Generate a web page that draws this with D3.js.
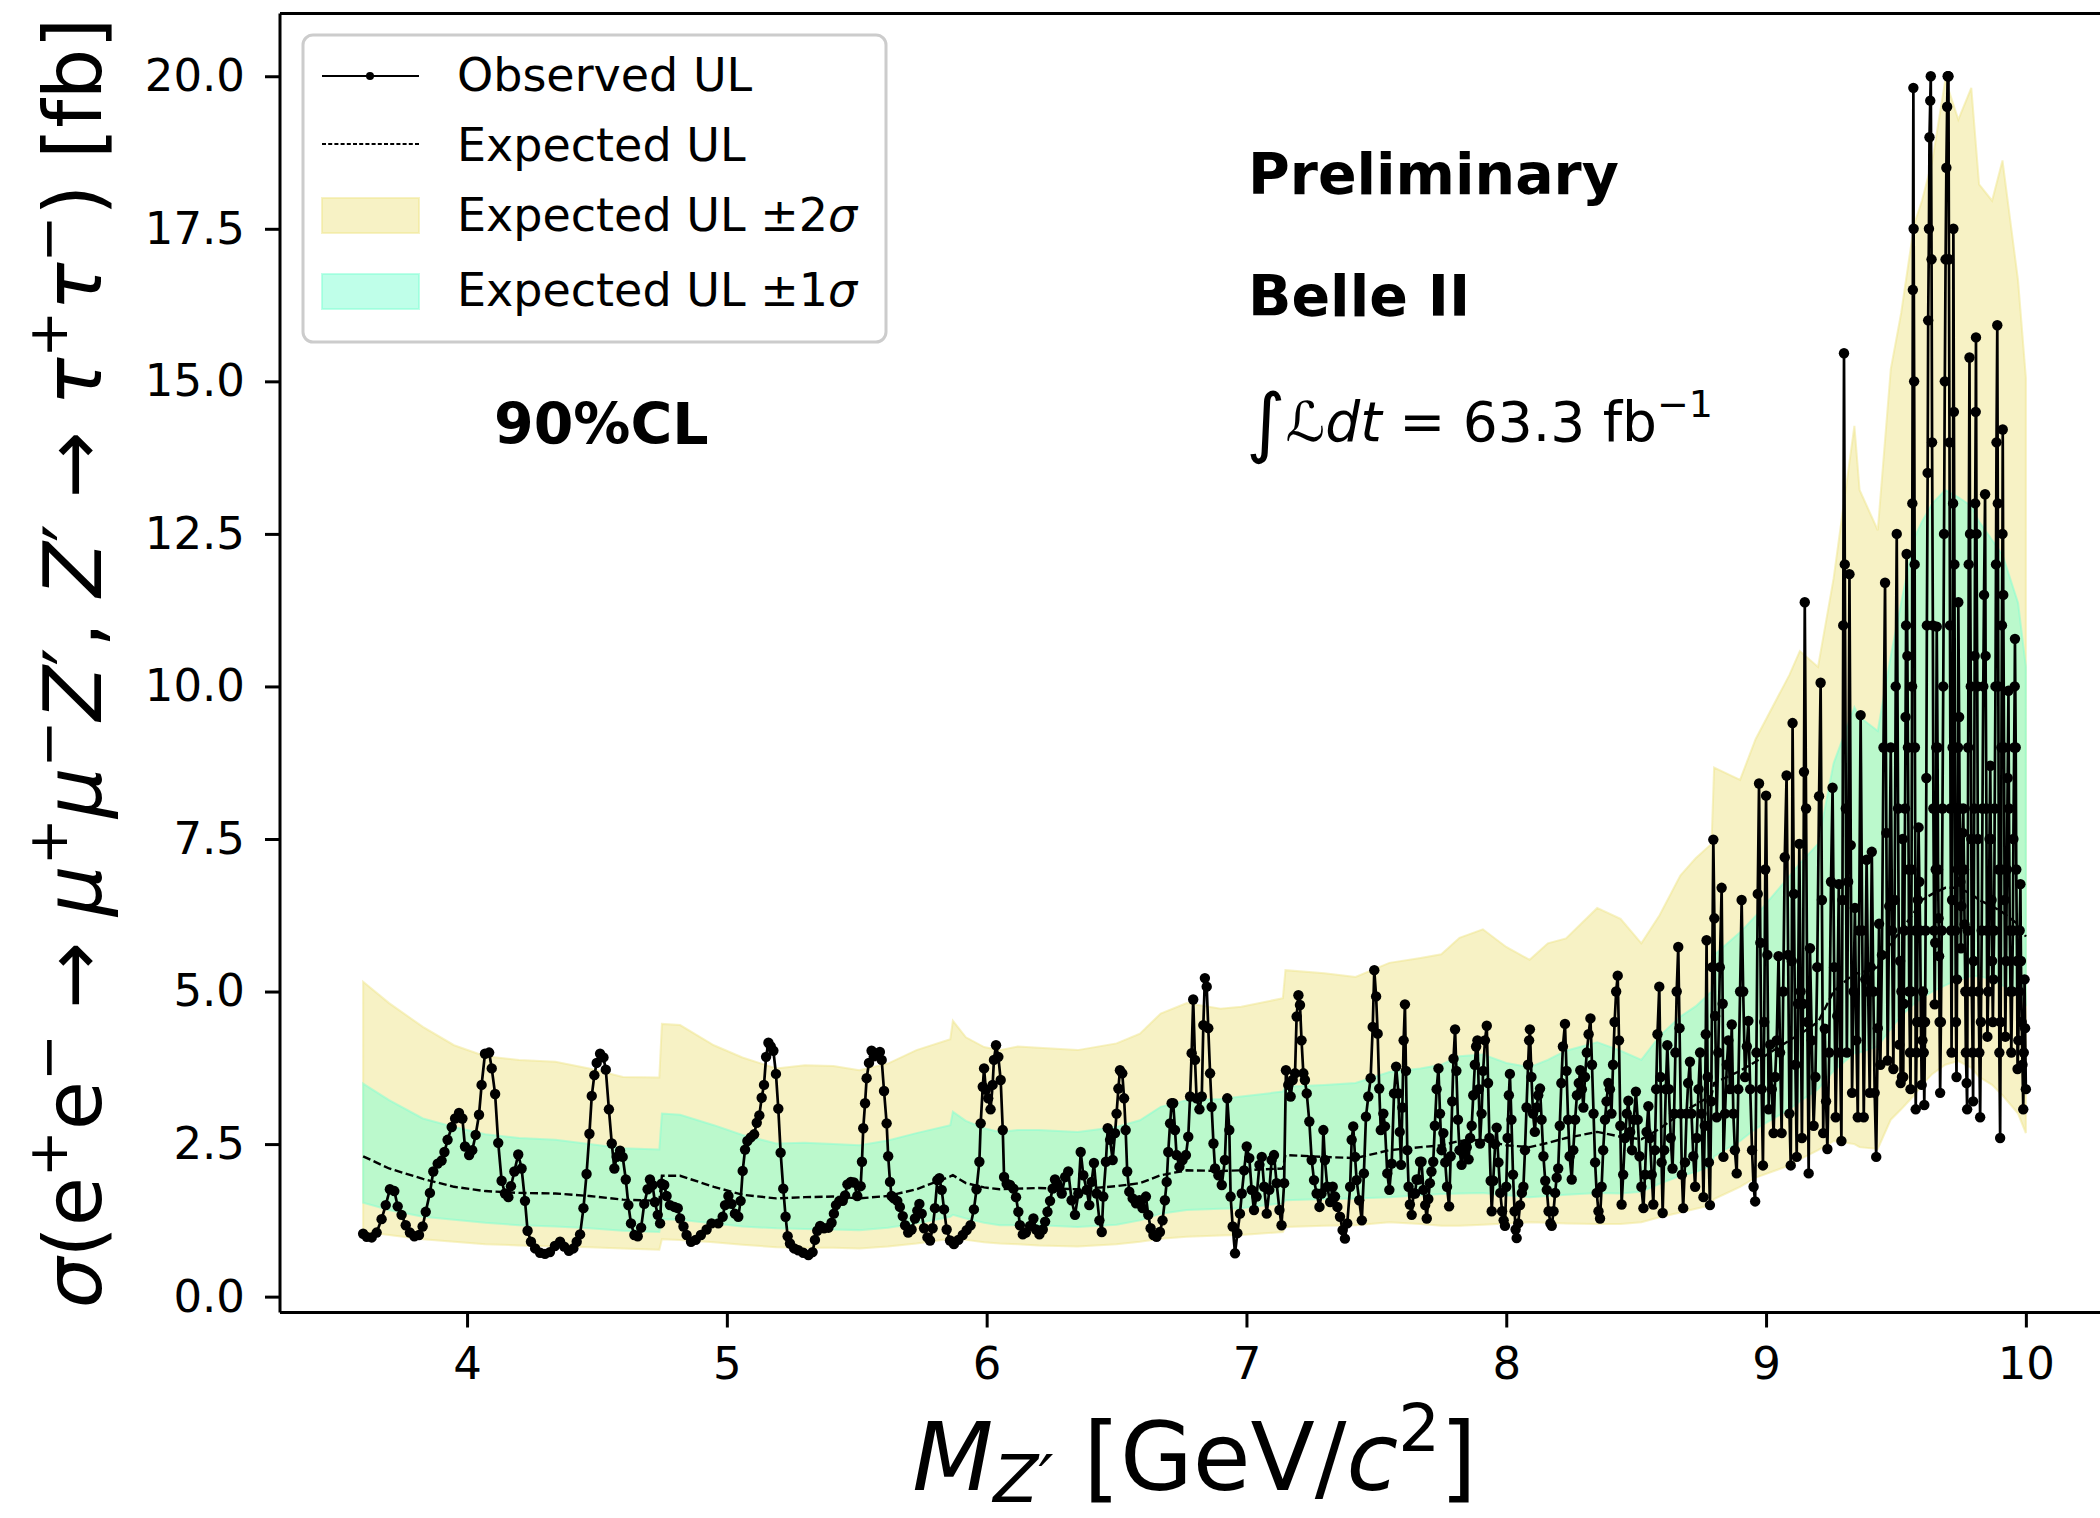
<!DOCTYPE html>
<html>
<head>
<meta charset="utf-8">
<script src="https://cdn.jsdelivr.net/npm/d3@7"></script>
<style>
  body { margin: 0; background: #fff; }
  svg text { font-family: "DejaVu Sans", sans-serif; fill: #000; }
</style>
</head>
<body>
<svg id="chart" width="2100" height="1518"></svg>
<script>
// Expected band table: mass, -2σ, -1σ, median, +1σ, +2σ
const bandMass   = [3.60,3.70,3.83,3.95,4.07,4.20,4.34,4.47,4.60,4.74,4.75,4.82,4.95,5.06,5.19,5.30,5.41,5.51,5.62,5.73,5.86,5.87,5.92,5.99,6.05,6.12,6.20,6.35,6.50,6.59,6.67,6.77,6.90,6.98,7.14,7.15,7.30,7.42,7.55,7.67,7.75,7.82,7.91,8.00,8.09,8.16,8.23,8.35,8.44,8.52,8.59,8.67,8.73,8.79,8.80,8.90,8.96,9.09,9.13,9.20,9.26,9.34,9.36,9.43,9.48,9.52,9.57,9.60,9.64,9.69,9.74,9.79,9.82,9.87,9.91,9.97,10.00];
const bandLow2   = [1.06,1.01,0.94,0.90,0.86,0.84,0.82,0.81,0.79,0.77,0.94,0.93,0.89,0.85,0.81,0.80,0.80,0.79,0.82,0.87,0.95,0.97,0.93,0.89,0.87,0.86,0.84,0.82,0.86,0.90,0.95,0.98,1.00,1.01,1.06,1.14,1.16,1.17,1.22,1.19,1.16,1.16,1.18,1.20,1.22,1.21,1.20,1.19,1.19,1.22,1.30,1.38,1.44,1.50,1.60,1.80,1.95,2.15,2.25,2.40,2.55,2.50,2.45,2.42,2.90,3.07,3.30,3.47,3.65,3.80,3.86,3.75,3.60,3.47,3.30,3.00,2.68];
const bandLow1   = [1.54,1.42,1.31,1.26,1.21,1.17,1.15,1.12,1.08,1.06,1.27,1.26,1.20,1.15,1.12,1.11,1.10,1.09,1.13,1.20,1.31,1.34,1.28,1.21,1.17,1.17,1.17,1.14,1.18,1.25,1.36,1.42,1.44,1.45,1.53,1.58,1.60,1.61,1.63,1.66,1.68,1.69,1.70,1.66,1.63,1.65,1.67,1.70,1.69,1.72,1.85,1.98,2.04,2.15,2.30,2.55,2.75,3.07,3.20,3.40,3.70,3.99,4.00,4.10,4.39,4.60,4.80,4.90,5.00,5.10,5.20,5.25,5.25,5.20,5.10,4.95,4.80];
const bandMedian = [2.30,2.10,1.93,1.80,1.73,1.70,1.69,1.65,1.59,1.57,1.98,1.98,1.80,1.67,1.61,1.63,1.64,1.61,1.65,1.76,1.97,1.99,1.86,1.79,1.76,1.77,1.78,1.76,1.81,1.86,1.99,2.07,2.06,2.07,2.10,2.32,2.29,2.27,2.40,2.45,2.48,2.55,2.57,2.48,2.45,2.52,2.60,2.70,2.62,2.58,2.75,3.00,3.15,3.30,3.50,3.70,3.85,4.20,4.30,4.50,5.00,5.30,5.30,5.40,5.80,6.00,6.30,6.50,6.60,6.70,6.70,6.60,6.50,6.40,6.30,6.10,5.90];
const bandUp1    = [3.49,3.22,2.92,2.78,2.66,2.60,2.57,2.50,2.43,2.41,3.00,2.98,2.81,2.65,2.51,2.52,2.50,2.48,2.56,2.68,2.81,3.03,2.88,2.76,2.70,2.73,2.73,2.70,2.78,2.89,3.11,3.22,3.24,3.28,3.36,3.44,3.47,3.50,3.68,3.74,3.80,3.94,3.97,3.83,3.76,3.88,4.03,4.17,4.03,3.88,4.27,4.59,4.76,5.00,5.60,5.97,6.24,6.89,7.10,7.42,8.74,9.66,9.50,9.27,10.50,11.37,12.43,12.70,13.00,13.22,13.10,12.96,12.70,12.40,12.16,11.37,10.32];
const bandUp2    = [5.16,4.81,4.42,4.12,3.94,3.88,3.85,3.74,3.60,3.59,4.47,4.45,4.12,3.92,3.74,3.79,3.78,3.71,3.82,4.04,4.22,4.52,4.25,4.09,4.04,4.10,4.08,4.04,4.15,4.31,4.64,4.81,4.72,4.75,4.89,5.35,5.30,5.24,5.47,5.55,5.61,5.88,6.02,5.73,5.52,5.79,5.87,6.37,6.19,5.79,6.25,6.90,7.19,7.42,8.67,8.47,9.14,10.19,10.58,10.32,11.77,14.27,13.22,12.56,15.20,16.12,17.57,17.96,18.62,19.94,19.29,19.81,18.23,17.96,18.62,16.65,15.06];

// Observed UL, [mass, UL]
const obsLow = [
[3.600,1.03],[3.614,0.98],[3.633,0.97],[3.652,1.05],[3.671,1.27],[3.687,1.50],[3.703,1.76],[3.720,1.73],[3.733,1.48],[3.748,1.34],
[3.764,1.17],[3.780,1.05],[3.797,0.99],[3.815,1.01],[3.829,1.15],[3.841,1.39],[3.857,1.70],[3.870,2.05],[3.887,2.18],[3.902,2.23],
[3.913,2.37],[3.925,2.57],[3.941,2.78],[3.954,2.92],[3.969,3.01],[3.982,2.92],[3.992,2.46],[4.008,2.32],[4.020,2.40],[4.033,2.65],
[4.046,2.98],[4.056,3.47],[4.069,3.98],[4.085,4.00],[4.095,3.74],[4.108,3.32],[4.120,2.52],[4.133,1.90],[4.146,1.69],[4.159,1.63],
[4.169,1.81],[4.182,2.05],[4.197,2.33],[4.210,2.10],[4.223,1.57],[4.233,1.08],[4.246,0.90],[4.262,0.79],[4.281,0.72],[4.300,0.70],
[4.319,0.73],[4.338,0.83],[4.358,0.90],[4.374,0.82],[4.392,0.75],[4.409,0.79],[4.422,0.90],[4.435,1.02],[4.448,1.45],[4.460,2.01],
[4.471,2.67],[4.480,3.29],[4.490,3.63],[4.499,3.83],[4.512,3.98],[4.525,3.92],[4.534,3.72],[4.546,3.07],[4.557,2.51],[4.567,2.10],
[4.576,2.29],[4.589,2.39],[4.599,2.29],[4.611,1.92],[4.621,1.50],[4.631,1.20],[4.644,1.01],[4.657,0.99],[4.670,1.13],[4.682,1.52],
[4.695,1.76],[4.704,1.92],[4.714,1.83],[4.723,1.55],[4.734,1.34],[4.743,1.20],[4.749,1.85],[4.759,1.83],[4.768,1.65],[4.781,1.50],
[4.798,1.47],[4.811,1.45],[4.820,1.28],[4.833,1.15],[4.845,1.01],[4.862,0.90],[4.880,0.93],[4.900,1.01],[4.922,1.10],[4.941,1.20],
[4.967,1.20],[4.984,1.31],[4.993,1.50],[5.006,1.65],[5.018,1.52],[5.031,1.36],[5.044,1.31],[5.053,1.57],[5.061,2.06],[5.070,2.41],
[5.079,2.55],[5.092,2.61],[5.105,2.66],[5.115,2.85],[5.125,2.97],[5.134,3.26],[5.143,3.47],[5.151,3.93],[5.160,4.16],[5.169,4.10],
[5.179,4.03],[5.189,3.65],[5.198,3.08],[5.207,2.36],[5.217,1.77],[5.226,1.31],[5.234,0.99],[5.243,0.87],[5.259,0.79],[5.275,0.76],
[5.294,0.72],[5.314,0.68],[5.330,0.73],[5.339,0.93],[5.348,1.08],[5.359,1.16],[5.374,1.12],[5.391,1.13],[5.403,1.21],[5.412,1.36],
[5.420,1.50],[5.433,1.57],[5.446,1.57],[5.455,1.66],[5.464,1.84],[5.477,1.88],[5.489,1.87],[5.502,1.65],[5.515,1.81],[5.520,2.21],
[5.525,2.76],[5.532,3.17],[5.538,3.58],[5.547,3.83],[5.557,4.03],[5.566,3.94],[5.577,3.98],[5.589,4.01],[5.596,3.88],[5.605,3.37],
[5.615,2.84],[5.621,2.30],[5.628,1.88],[5.634,1.65],[5.643,1.61],[5.656,1.57],[5.666,1.47],[5.677,1.32],[5.686,1.17],[5.698,1.05],
[5.711,1.10],[5.724,1.28],[5.733,1.41],[5.741,1.52],[5.750,1.36],[5.759,1.12],[5.772,0.97],[5.782,0.92],[5.792,1.12],[5.801,1.45],
[5.810,1.91],[5.818,1.94],[5.827,1.75],[5.836,1.43],[5.846,1.10],[5.859,0.92],[5.874,0.86],[5.891,0.93],[5.908,1.01],[5.923,1.09],
[5.938,1.17],[5.951,1.43],[5.961,1.76],[5.972,2.21],[5.977,2.84],[5.985,3.44],[5.990,3.74],[5.997,3.39],[6.006,3.25],[6.015,3.07],
[6.023,3.47],[6.028,3.88],[6.036,4.12],[6.045,3.93],[6.054,3.55],[6.062,2.73],[6.067,1.96],[6.077,1.85],[6.090,1.83],[6.103,1.77],
[6.113,1.63],[6.122,1.39],[6.128,1.17],[6.139,1.02],[6.151,1.05],[6.167,1.16],[6.180,1.28],[6.190,1.10],[6.203,1.02],[6.216,1.10],
[6.225,1.23],[6.234,1.39],[6.244,1.57],[6.254,1.77],[6.263,1.92],[6.272,1.85]
];
const obsMid = [
[6.276,1.80],[6.289,1.69],[6.302,1.96],[6.314,2.05],[6.327,1.58],[6.340,1.34],[6.353,1.69],[6.362,2.37],[6.372,1.99],[6.385,1.75],
[6.395,1.50],[6.404,1.88],[6.413,2.19],[6.423,1.69],[6.434,1.25],[6.443,1.06],[6.449,1.64],[6.459,2.21],[6.466,2.76],[6.475,2.57],
[6.485,2.24],[6.494,2.68],[6.500,3.00],[6.507,3.41],[6.513,3.71],[6.522,3.66],[6.529,3.25],[6.535,2.73],[6.541,2.05],[6.549,1.72],
[6.562,1.61],[6.575,1.53],[6.588,1.58],[6.600,1.45],[6.613,1.64],[6.622,1.34],[6.631,1.12],[6.642,1.01],[6.654,0.98],[6.667,1.06],
[6.677,1.25],[6.686,1.58],[6.693,1.88],[6.699,2.37],[6.706,2.84],[6.712,3.17],[6.718,3.17],[6.725,2.73],[6.731,2.32],[6.742,2.13],
[6.754,2.24],[6.767,2.32],[6.776,2.62],[6.783,3.28],[6.789,3.99],[6.795,4.87],[6.802,3.88],[6.808,3.25],[6.819,3.07],[6.828,3.28],
[6.834,4.45],[6.840,5.22],[6.847,5.08],[6.853,4.40],[6.860,3.66],[6.866,3.11],[6.873,2.51],[6.879,2.10],[6.892,1.99],[6.905,1.83],
[6.917,2.24],[6.926,3.25],[6.934,2.73],[6.939,1.64],[6.947,1.15],[6.956,0.71],[6.965,1.04],[6.975,1.36],[6.982,1.69],[6.991,2.07],
[7.001,2.46],[7.011,2.27],[7.020,1.75],[7.029,1.42],[7.039,1.64],[7.050,2.16],[7.059,2.29],[7.068,1.80],[7.078,1.36],[7.088,1.75],
[7.097,2.24],[7.106,2.32],[7.116,1.86],[7.127,1.42],[7.135,1.17],[7.145,1.86],[7.152,3.71],[7.161,3.47],[7.170,3.28],[7.178,3.55],
[7.187,3.66],[7.193,4.59],[7.200,4.94],[7.206,4.78],[7.212,4.20],[7.219,3.66],[7.225,3.55],[7.232,3.33],[7.242,2.87],[7.251,2.24],
[7.260,1.91],[7.270,1.69],[7.281,1.47],[7.289,1.69],[7.296,2.73],[7.302,2.24],[7.311,1.80],[7.322,1.55],[7.332,1.80],[7.341,1.64],
[7.350,1.47],[7.360,1.31],[7.370,1.09],[7.379,0.95],[7.388,1.20],[7.399,1.80],[7.405,2.57],[7.411,2.79],[7.418,2.29],[7.424,1.91],
[7.434,1.58],[7.444,1.25],[7.452,2.02],[7.460,2.95],[7.469,3.28],[7.478,3.58],[7.486,4.42],[7.492,5.35],[7.499,4.92],[7.505,4.31],
[7.511,3.41],[7.517,2.73],[7.527,3.00],[7.533,2.79],[7.542,2.02],[7.550,1.75],[7.559,2.18],[7.568,3.33],[7.576,3.77],[7.585,3.33]
];
const obsHigh = [
[7.590,2.70],[7.595,2.16],[7.600,3.10],[7.605,4.20],[7.610,4.79],[7.614,3.70],[7.619,2.40],[7.624,1.80],[7.629,1.51],[7.636,1.34],
[7.643,1.69],[7.649,1.69],[7.655,1.92],[7.662,1.92],[7.668,2.21],[7.674,2.21],[7.681,1.75],[7.688,1.50],[7.694,1.28],[7.700,1.60],
[7.706,1.86],[7.712,2.05],[7.719,2.21],[7.725,2.80],[7.732,3.40],[7.739,3.74],[7.745,3.00],[7.751,2.40],[7.758,2.68],[7.765,2.20],
[7.772,1.80],[7.780,1.48],[7.786,2.30],[7.792,3.20],[7.797,3.90],[7.803,4.38],[7.808,3.70],[7.814,2.90],[7.820,2.40],[7.828,2.16],
[7.835,2.35],[7.841,2.50],[7.848,2.45],[7.855,2.25],[7.861,2.60],[7.867,2.80],[7.873,3.30],[7.879,3.80],[7.884,4.10],[7.889,4.20],
[7.894,3.40],[7.899,2.51],[7.905,3.00],[7.911,3.70],[7.918,4.20],[7.925,4.44],[7.930,3.50],[7.935,2.60],[7.940,1.90],[7.944,1.40],
[7.950,1.90],[7.957,2.50],[7.963,2.77],[7.970,2.20],[7.977,1.70],[7.984,1.40],[7.990,1.25],[7.995,1.16],[8.000,1.80],[8.005,2.60],
[8.010,3.30],[8.014,3.65],[8.020,2.90],[8.026,2.00],[8.032,1.40],[8.036,1.10],[8.040,0.96],[8.046,1.20],[8.053,1.50],[8.060,1.70],
[8.066,1.80],[8.072,2.40],[8.078,3.10],[8.084,3.80],[8.088,4.20],[8.091,4.38],[8.097,3.60],[8.103,3.00],[8.110,2.70],[8.117,3.10],
[8.123,3.30],[8.130,3.41],[8.136,2.90],[8.143,2.30],[8.150,1.90],[8.156,1.75],[8.163,1.40],[8.170,1.20],[8.175,1.16],[8.182,1.40],
[8.188,1.70],[8.194,1.95],[8.200,2.10],[8.206,2.80],[8.212,3.50],[8.218,4.10],[8.226,4.47],[8.232,3.70],[8.238,2.90],[8.244,2.30],
[8.252,1.92],[8.258,2.40],[8.265,2.90],[8.272,3.30],[8.279,3.50],[8.285,3.71],[8.291,3.40],[8.297,3.10],[8.303,3.60],[8.310,4.00],
[8.317,4.30],[8.324,4.56],[8.330,3.80],[8.336,3.00],[8.342,2.20],[8.348,1.70],[8.355,1.40],[8.361,1.28],[8.367,1.80],[8.373,2.40],
[8.380,2.90],[8.386,3.20],[8.393,3.50],[8.399,3.40],[8.405,3.00],[8.411,3.80],[8.417,4.50],[8.423,5.00],[8.429,5.26],[8.434,4.20],
[8.439,2.80],[8.444,1.51],[8.450,2.00],[8.457,2.60],[8.464,3.00],[8.470,3.21],[8.477,2.70],[8.484,2.40],[8.491,2.90],[8.499,3.36],
[8.506,2.90],[8.513,2.30],[8.520,1.80],[8.528,1.45],[8.534,2.00],[8.540,2.70],[8.547,3.12],[8.553,2.60],[8.560,2.00],[8.566,1.51],
[8.572,2.40],[8.577,3.40],[8.582,4.30],[8.589,5.08],[8.594,3.60],[8.598,2.20],[8.602,1.37],[8.608,2.40],[8.614,3.40],[8.620,4.12],
[8.626,3.40],[8.633,2.60],[8.640,2.10],[8.646,3.00],[8.651,4.00],[8.656,5.00],[8.662,5.73],[8.667,4.40],[8.672,3.00],[8.676,2.00],
[8.681,1.45],[8.688,2.20],[8.694,3.00],[8.700,3.50],[8.707,3.85],[8.713,3.00],[8.720,2.30],[8.727,1.80],[8.733,2.60],[8.740,3.40],
[8.746,4.00],[8.752,3.00],[8.759,1.63],[8.764,2.80],[8.768,4.30],[8.771,5.84],[8.775,3.60],[8.780,2.20],[8.784,1.50],[8.789,3.20],
[8.793,5.40],[8.797,7.49],[8.801,6.20],[8.804,4.60],[8.810,2.94],[8.816,4.00],[8.822,5.40],[8.829,6.70],[8.833,4.80],[8.836,2.29],
[8.842,3.00],[8.849,3.80],[8.855,4.20],[8.861,3.40],[8.868,4.46],[8.874,3.00],[8.880,2.40],[8.887,2.02],[8.893,3.40],[8.900,5.00],
[8.906,6.50],[8.912,5.00],[8.919,3.60],[8.926,4.10],[8.932,4.52],[8.939,3.40],[8.946,2.40],[8.952,1.80],[8.958,1.56],[8.963,4.00],
[8.968,6.60],[8.973,8.41],[8.978,5.80],[8.983,3.40],[8.988,2.15],[8.993,4.50],[8.997,7.00],[9.000,8.21],[9.005,5.60],[9.010,3.07],
[9.016,4.13],[9.022,3.40],[9.029,2.68],[9.035,3.60],[9.041,4.20],[9.048,5.58],[9.054,4.00],[9.060,2.68],[9.066,5.00],[9.072,7.20],
[9.079,8.54],[9.085,5.60],[9.090,3.00],[9.095,2.15],[9.099,5.50],[9.102,9.40],[9.107,6.60],[9.113,3.80],[9.118,2.29],[9.123,4.80],
[9.128,7.42],[9.133,5.00],[9.138,2.60],[9.142,4.80],[9.146,8.60],[9.149,11.38],[9.154,8.00],[9.159,4.50],[9.164,2.02],[9.169,5.71],
[9.176,4.20],[9.183,2.80],[9.190,3.60],[9.197,5.40],[9.204,8.20],[9.210,10.06],[9.215,6.50],[9.220,2.68],[9.226,4.39],[9.231,3.20],
[9.236,2.42],[9.243,4.00],[9.250,6.80],[9.256,8.34],[9.262,5.40],[9.268,2.94],[9.274,4.60],[9.280,6.76],[9.285,4.00],[9.290,2.55],
[9.294,6.50],[9.297,11.00],[9.300,15.46],[9.303,12.00],[9.307,8.00],[9.311,4.00],[9.316,6.80],[9.321,11.84],[9.326,7.40],[9.331,3.34],
[9.337,5.00],[9.342,6.37],[9.348,4.20],[9.353,2.94],[9.358,6.00],[9.364,9.53],[9.370,6.00],[9.376,2.94],[9.382,5.20],[9.387,7.16],
[9.393,5.00],[9.399,3.34],[9.403,5.40],[9.407,7.29],[9.413,5.00],[9.418,3.34],[9.424,2.29],[9.430,4.40],[9.435,6.11],[9.440,3.80],
[9.446,5.60],[9.452,9.00],[9.458,11.70],[9.463,7.60],[9.468,3.87],[9.474,6.40],[9.480,9.00],[9.485,6.00],[9.490,3.73],[9.495,6.50],
[9.499,10.00],[9.503,12.50],[9.508,8.00],[9.513,4.13]
];
const obsTop = [
[9.516,5.50],[9.518,3.50],[9.521,5.00],[9.523,3.60],[9.526,7.50],[9.528,3.60],[9.530,4.80],[9.532,6.00],[9.535,8.00],[9.537,9.50],
[9.539,11.00],[9.541,12.17],[9.544,10.50],[9.546,9.00],[9.549,7.00],[9.551,5.00],[9.554,4.00],[9.556,3.40],[9.558,5.00],[9.560,7.00],
[9.562,10.00],[9.563,13.00],[9.565,16.50],[9.567,19.81],[9.568,17.50],[9.570,15.00],[9.572,12.00],[9.573,9.00],[9.575,6.00],[9.576,3.07],
[9.579,4.00],[9.581,4.50],[9.584,6.50],[9.587,7.69],[9.590,6.80],[9.593,6.00],[9.596,4.50],[9.599,3.47],[9.602,4.20],[9.604,5.00],
[9.607,4.00],[9.609,3.14],[9.612,4.50],[9.614,6.00],[9.617,8.50],[9.619,11.00],[9.622,13.50],[9.624,16.00],[9.627,17.50],[9.629,19.00],
[9.632,19.60],[9.634,20.00],[9.637,17.00],[9.639,14.00],[9.642,11.00],[9.644,8.00],[9.647,6.00],[9.649,4.79],[9.651,5.80],[9.653,7.00],
[9.655,9.00],[9.657,10.98],[9.660,9.00],[9.662,7.00],[9.664,6.20],[9.666,5.58],[9.668,4.50],[9.670,3.34],[9.673,4.50],[9.676,6.00],
[9.679,8.00],[9.682,10.00],[9.685,12.50],[9.688,15.00],[9.691,17.00],[9.694,18.50],[9.697,19.50],[9.699,20.00],[9.701,20.00],[9.702,20.00],
[9.704,17.00],[9.706,14.00],[9.708,11.00],[9.710,8.00],[9.712,6.00],[9.714,4.00],[9.716,6.50],[9.718,9.00],[9.720,13.00],[9.721,17.50],
[9.723,14.50],[9.725,12.00],[9.727,9.00],[9.729,6.00],[9.731,4.50],[9.733,3.60],[9.735,5.20],[9.737,7.00],[9.739,9.00],[9.740,11.38],
[9.743,9.50],[9.745,8.00],[9.748,6.80],[9.750,5.71],[9.752,6.40],[9.755,7.00],[9.757,7.60],[9.759,8.00],[9.762,7.00],[9.764,6.10],
[9.767,5.00],[9.769,4.00],[9.772,3.50],[9.774,3.07],[9.776,6.00],[9.778,9.00],[9.780,12.00],[9.783,15.39],[9.785,12.50],[9.788,10.00],
[9.790,7.50],[9.792,5.00],[9.795,4.00],[9.797,3.20],[9.799,5.50],[9.801,8.00],[9.803,10.50],[9.805,13.00],[9.807,14.50],[9.808,15.72],
[9.810,12.50],[9.813,10.00],[9.815,7.50],[9.818,5.00],[9.821,4.00],[9.824,2.94],[9.827,4.50],[9.830,6.00],[9.833,8.00],[9.836,10.00],
[9.839,11.50],[9.843,13.15],[9.845,10.50],[9.848,8.00],[9.850,6.00],[9.852,4.26],[9.855,5.00],[9.858,6.00],[9.860,7.50],[9.863,8.70],
[9.865,7.50],[9.868,6.50],[9.870,5.50],[9.873,4.50],[9.875,5.20],[9.878,6.00],[9.880,8.00],[9.883,10.00],[9.885,12.00],[9.887,14.00],
[9.890,15.92],[9.892,13.00],[9.894,10.00],[9.896,7.00],[9.898,4.00],[9.901,2.60],[9.903,4.50],[9.905,7.00],[9.906,9.00],[9.908,11.00],
[9.910,12.50],[9.911,14.21],[9.913,11.50],[9.916,9.00],[9.918,6.50],[9.921,4.26],[9.924,5.50],[9.927,7.00],[9.930,8.50],[9.933,9.93],
[9.935,8.00],[9.938,6.00],[9.941,5.00],[9.944,4.00],[9.947,5.00],[9.950,6.00],[9.952,7.50],[9.955,9.00],[9.957,10.00],[9.958,10.78],
[9.961,9.00],[9.963,7.00],[9.966,5.50],[9.968,3.73],[9.971,4.20],[9.974,5.00],[9.976,6.00],[9.979,6.76],[9.981,5.50],[9.984,4.50],
[9.987,3.80],[9.990,3.07],[9.992,4.00],[9.995,5.20],[9.997,4.40],[10.000,3.40]
];

const xTicks = [4, 5, 6, 7, 8, 9, 10];
const yTicks = [0, 2.5, 5, 7.5, 10, 12.5, 15, 17.5, 20];

const svg = d3.select('#chart');
const W = 2100, H = 1518;
const plot = { left: 280, right: 2109, top: 13.4, bottom: 1312.5 };

const x = d3.scaleLinear().domain([3.28, 10.32]).range([plot.left, plot.right]);
const y = d3.scaleLinear().domain([-0.26, 21.03]).range([plot.bottom, plot.top]);

svg.append('rect').attr('width', W).attr('height', H).attr('fill', '#fff');

svg.append('clipPath').attr('id', 'clip')
  .append('rect')
  .attr('x', plot.left).attr('y', plot.top)
  .attr('width', plot.right - plot.left).attr('height', plot.bottom - plot.top);

const g = svg.append('g').attr('clip-path', 'url(#clip)');

const band = bandMass.map((m, i) => ({
  m, lo2: bandLow2[i], lo1: bandLow1[i], med: bandMedian[i], hi1: bandUp1[i], hi2: bandUp2[i]
}));

// ±2σ band then ±1σ band on top
const area2 = d3.area().x(d => x(d.m)).y0(d => y(d.lo2)).y1(d => y(d.hi2));
const area1 = d3.area().x(d => x(d.m)).y0(d => y(d.lo1)).y1(d => y(d.hi1));

g.append('path').datum(band).attr('d', area2)
  .attr('fill', '#f0e68c').attr('fill-opacity', 0.5)
  .attr('stroke', '#f0e68c').attr('stroke-opacity', 0.5).attr('stroke-width', 2);
g.append('path').datum(band).attr('d', area1)
  .attr('fill', '#7fffd4').attr('fill-opacity', 0.5)
  .attr('stroke', '#7fffd4').attr('stroke-opacity', 0.5).attr('stroke-width', 2);

// expected median
g.append('path').datum(band)
  .attr('d', d3.line().x(d => x(d.m)).y(d => y(d.med)))
  .attr('fill', 'none').attr('stroke', '#000').attr('stroke-width', 2.4)
  .attr('stroke-dasharray', '8,3.5');

// observed
const obs = obsLow.concat(obsMid, obsHigh, obsTop);
g.append('path').datum(obs)
  .attr('d', d3.line().x(d => x(d[0])).y(d => y(d[1])))
  .attr('fill', 'none').attr('stroke', '#000').attr('stroke-width', 2.7);
g.append('g').selectAll('circle')
  .data(obs)
  .enter().append('circle')
  .attr('cx', d => x(d[0])).attr('cy', d => y(d[1]))
  .attr('r', 5.2).attr('fill', '#000');

// axes
const xAxis = svg.append('g')
  .attr('transform', `translate(0,${plot.bottom})`)
  .call(d3.axisBottom(x).tickValues(xTicks).tickFormat(d3.format('d')).tickSize(15).tickSizeOuter(0).tickPadding(20));
const yAxis = svg.append('g')
  .attr('transform', `translate(${plot.left},0)`)
  .call(d3.axisLeft(y).tickValues(yTicks).tickFormat(d3.format('.1f')).tickSize(15).tickSizeOuter(0).tickPadding(20));

[xAxis, yAxis].forEach(a => {
  a.select('.domain').attr('stroke', '#000').attr('stroke-width', 3);
  a.selectAll('.tick line').attr('stroke', '#000').attr('stroke-width', 3);
  a.selectAll('.tick text').attr('font-size', 45).attr('font-family', '"DejaVu Sans"').attr('fill', '#000');
});
yAxis.select('.domain').attr('d', `M0,${plot.top}V${plot.bottom}`);
xAxis.select('.domain').attr('d', `M${plot.left},0H${plot.right}`);

// top spine
svg.append('line')
  .attr('x1', plot.left).attr('x2', plot.right)
  .attr('y1', plot.top).attr('y2', plot.top)
  .attr('stroke', '#000').attr('stroke-width', 3);

// mathtext-like runs: n normal, i italic, sup/supi superscript, sub/subi subscript
function mathText(sel, runs, fs) {
  let shift = 0;
  runs.forEach(([t, k]) => {
    const isSup = k.startsWith('sup'), isSub = k.startsWith('sub');
    const target = isSup ? -0.42 * fs : isSub ? 0.13 * fs : 0;
    sel.append('tspan')
      .attr('dy', target - shift)
      .attr('font-size', (isSup || isSub) ? fs * 0.7 : fs)
      .attr('font-style', k.endsWith('i') ? 'italic' : 'normal')
      .text(t);
    shift = target;
  });
}

// y label
const yl = svg.append('text')
  .attr('transform', `translate(101,${(plot.top + plot.bottom) / 2}) rotate(-90)`)
  .attr('text-anchor', 'middle').attr('font-size', 80);
mathText(yl, [
  ['σ', 'i'], ['(e', 'n'], ['+', 'sup'], ['e', 'n'], ['−', 'sup'], [' → ', 'n'],
  ['μ', 'i'], ['+', 'sup'], ['μ', 'i'], ['−', 'sup'], ['Z', 'i'], ['′, ', 'n'],
  ['Z', 'i'], ['′ → ', 'n'], ['τ', 'i'], ['+', 'sup'], ['τ', 'i'], ['−', 'sup'],
  [') [fb]', 'n']
], 80);

// x label
const xl = svg.append('text')
  .attr('x', (plot.left + plot.right) / 2).attr('y', 1490)
  .attr('text-anchor', 'middle').attr('font-size', 94);
mathText(xl, [
  ['M', 'i'], ['Z′', 'subi'], [' [GeV/', 'n'], ['c', 'i'], ['2', 'sup'], [']', 'n']
], 94);

// annotations
svg.append('text').attr('x', 1248).attr('y', 194).attr('font-size', 57).attr('font-weight', 'bold').text('Preliminary');
svg.append('text').attr('x', 1248).attr('y', 316).attr('font-size', 57).attr('font-weight', 'bold').text('Belle II');
svg.append('text').attr('x', 494).attr('y', 444).attr('font-size', 57).attr('font-weight', 'bold').text('90%CL');

const lum = svg.append('text').attr('x', 1246).attr('y', 441).attr('font-size', 55);
lum.append('tspan').attr('font-size', 76).attr('dy', 7).text('∫');
lum.append('tspan').attr('dy', -7).text('ℒ');
lum.append('tspan').attr('font-style', 'italic').text('dt');
lum.append('tspan').text(' = 63.3 fb');
lum.append('tspan').attr('font-size', 38).attr('dy', -24).text('−1');

// legend
const leg = svg.append('g');
leg.append('rect')
  .attr('x', 303).attr('y', 35).attr('width', 583).attr('height', 307).attr('rx', 10)
  .attr('fill', '#fff').attr('fill-opacity', 0.8)
  .attr('stroke', '#cccccc').attr('stroke-width', 3);

leg.append('line').attr('x1', 322).attr('x2', 419).attr('y1', 76).attr('y2', 76)
  .attr('stroke', '#000').attr('stroke-width', 2);
leg.append('circle').attr('cx', 370).attr('cy', 76).attr('r', 4).attr('fill', '#000');
leg.append('line').attr('x1', 322).attr('x2', 419).attr('y1', 144).attr('y2', 144)
  .attr('stroke', '#000').attr('stroke-width', 2).attr('stroke-dasharray', '4,2.2');
leg.append('rect').attr('x', 322).attr('y', 198).attr('width', 97).attr('height', 35)
  .attr('fill', '#f0e68c').attr('fill-opacity', 0.5)
  .attr('stroke', '#f0e68c').attr('stroke-opacity', 0.5).attr('stroke-width', 2);
leg.append('rect').attr('x', 322).attr('y', 274).attr('width', 97).attr('height', 35)
  .attr('fill', '#7fffd4').attr('fill-opacity', 0.5)
  .attr('stroke', '#7fffd4').attr('stroke-opacity', 0.5).attr('stroke-width', 2);

const legendRows = [
  { y: 91, runs: [['Observed UL', 'n']] },
  { y: 161, runs: [['Expected UL', 'n']] },
  { y: 231, runs: [['Expected UL ±2', 'n'], ['σ', 'i']] },
  { y: 306, runs: [['Expected UL ±1', 'n'], ['σ', 'i']] }
];
legendRows.forEach(r => {
  const t = leg.append('text').attr('x', 457).attr('y', r.y).attr('font-size', 46);
  mathText(t, r.runs, 46);
});
</script>
</body>
</html>
